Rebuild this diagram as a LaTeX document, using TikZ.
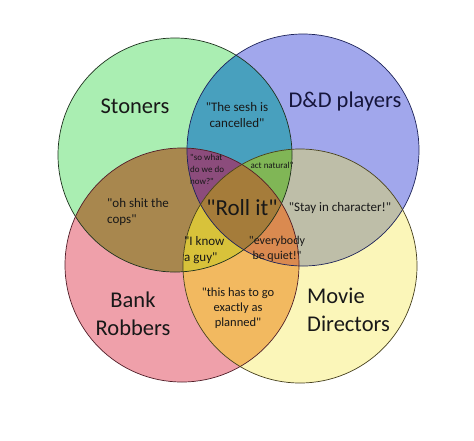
\documentclass[tikz,border=0pt]{standalone}
\usepackage{fontspec}
\setmainfont[Ligatures=TeXOff]{Carlito}
\definecolor{gS}{RGB}{170,238,178}
\definecolor{bS}{RGB}{161,167,236}
\definecolor{rS}{RGB}{239,160,170}
\definecolor{yS}{RGB}{251,246,185}
\definecolor{gb}{RGB}{72,160,190}
\definecolor{gr}{RGB}{168,135,78}
\definecolor{by}{RGB}{190,190,168}
\definecolor{ry}{RGB}{242,185,96}
\definecolor{gbr}{RGB}{140,76,124}
\definecolor{gby}{RGB}{128,182,86}
\definecolor{gry}{RGB}{216,194,58}
\definecolor{bry}{RGB}{218,138,80}
\definecolor{all}{RGB}{165,124,58}
\definecolor{gL}{RGB}{30,50,30}
\definecolor{bL}{RGB}{30,36,90}
\definecolor{rL}{RGB}{80,30,40}
\definecolor{yL}{RGB}{70,64,30}
\definecolor{txt}{RGB}{24,24,24}
\definecolor{txtb}{RGB}{22,22,60}
\begin{document}
\begin{tikzpicture}[x=1pt,y=-1pt,
  bigtext/.style={font=\fontsize{22.5}{28}\selectfont, text=txt, align=center, inner sep=0pt},
  medtext/.style={font=\fontsize{13}{16.5}\selectfont, text=txt, align=center, inner sep=0pt},
  smalltext/.style={font=\fontsize{9}{12}\selectfont, text=txt, align=left, inner sep=0pt},
  ring/.style={line width=0.7pt}]
\useasboundingbox (0,0) rectangle (474,440);
\fill[white] (0,0) rectangle (474,440);
\def\cG{(175,155) circle[radius=117pt]}
\def\cB{(303,150) circle[radius=116pt]}
\def\cR{(182,265) circle[radius=117pt]}
\def\cY{(300,266) circle[radius=117pt]}
% singles
\fill[gS] \cG; \fill[bS] \cB; \fill[rS] \cR; \fill[yS] \cY;
% pairs
\begin{scope}\clip \cG; \fill[gb] \cB; \end{scope}
\begin{scope}\clip \cG; \fill[gr] \cR; \end{scope}
\begin{scope}\clip \cB; \fill[by] \cY; \end{scope}
\begin{scope}\clip \cR; \fill[ry] \cY; \end{scope}
\begin{scope}\clip \cG; \fill[all] \cY; \end{scope}
\begin{scope}\clip \cB; \fill[all] \cR; \end{scope}
% triples
\begin{scope}\clip \cG; \clip \cB; \fill[gbr] \cR; \end{scope}
\begin{scope}\clip \cG; \clip \cB; \fill[gby] \cY; \end{scope}
\begin{scope}\clip \cG; \clip \cR; \fill[gry] \cY; \end{scope}
\begin{scope}\clip \cB; \clip \cR; \fill[bry] \cY; \end{scope}
% all four
\begin{scope}\clip \cG; \clip \cB; \clip \cR; \fill[all] \cY; \end{scope}
% outlines
\draw[ring, gL] \cG;
\draw[ring, bL] \cB;
\draw[ring, rL] \cR;
\draw[ring, yL] \cY;
% labels
\node[bigtext] (stoners) at (135,106) {Stoners};
\node[bigtext, text=txtb] (dnd) at (345,101) {D\&D players};
\node[bigtext] (bank) at (133,314) {Bank\\Robbers};
\node[bigtext, align=left, anchor=west] (movie) at (307,310) {Movie\\Directors};
\node[medtext] (sesh) at (237,115) {"The sesh is\\cancelled"};
\node[bigtext, font=\fontsize{23}{28}\selectfont] (roll) at (242,208) {"Roll it"};
\node[medtext, align=left, anchor=west] (cops) at (107,212) {"oh shit the\\cops"};
\node[medtext] (stay) at (340,208) {"Stay in character!"};
\node[medtext, align=left, anchor=west] (guy) at (184,250) {"I know\\a guy"};
\node[medtext, font=\fontsize{12}{15}\selectfont] (quiet) at (277,249) {"everybody\\be quiet!"};
\node[medtext, font=\fontsize{12.5}{15}\selectfont] (plan) at (238,308) {"this has to go\\exactly as\\planned"};
\node[smalltext, anchor=west] (sowhat) at (190,169) {"so what\\do we do\\now?"};
\node[smalltext] (act) at (272,165) {act natural"};
\end{tikzpicture}
\end{document}
